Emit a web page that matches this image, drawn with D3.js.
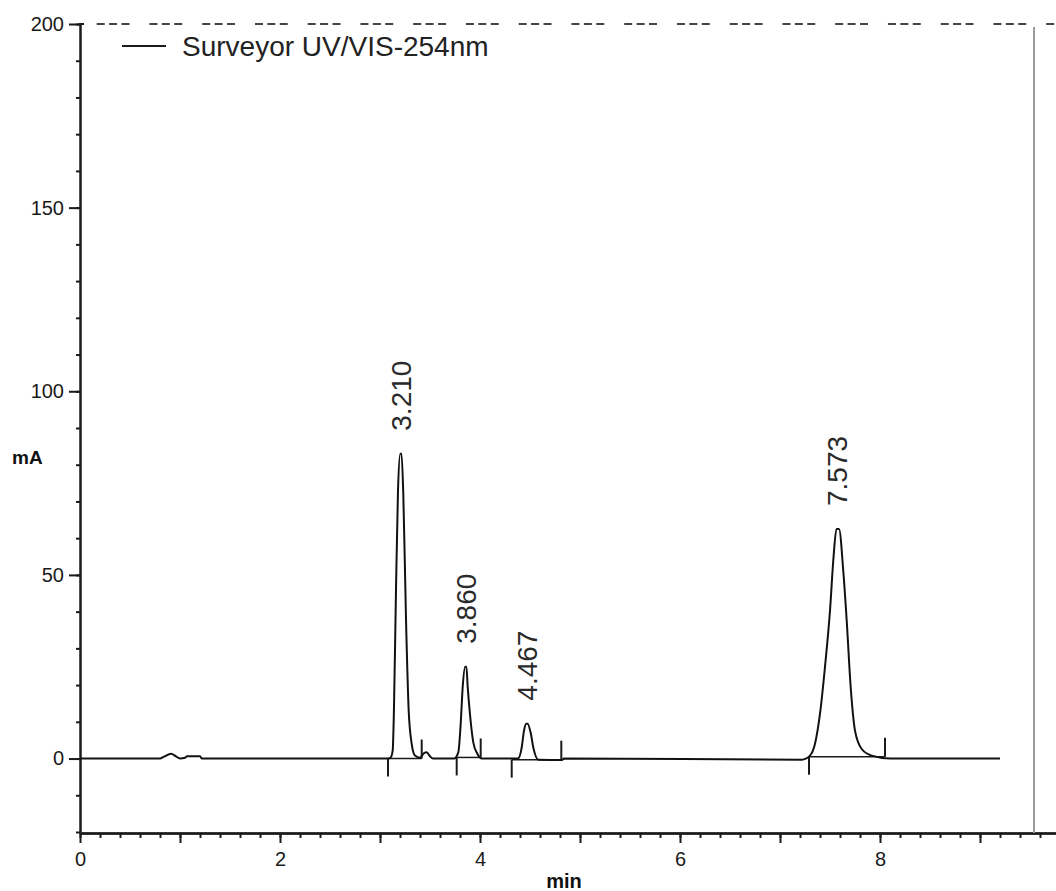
<!DOCTYPE html>
<html>
<head>
<meta charset="utf-8">
<script src="https://cdn.jsdelivr.net/npm/d3@7"></script>
<style>
    html, body { margin: 0; padding: 0; background: #fff; }
    svg { display: block; font-family: "Liberation Sans", Arial, sans-serif; }
</style>
</head>
<body>
<svg id="chart" width="1056" height="891"></svg>
<script>
// chromatogram trace, [ time (min), signal (mA) ]
var trace = [
    [0, 0], [0.80, 0], [0.84, 0.5], [0.91, 1.3], [0.96, 0.6], [1.00, 0],
    [1.05, 0.2], [1.07, 0.6], [1.20, 0.6], [1.22, 0],
    [3.08, 0], [3.107, 0.3], [3.127, 2.2], [3.14, 14], [3.16, 46], [3.18, 73],
    [3.203, 83], [3.215, 83], [3.233, 72], [3.26, 38], [3.287, 13], [3.317, 4],
    [3.35, 0.8], [3.40, 0.2], [3.44, 1.5], [3.467, 1.7], [3.50, 0.6], [3.53, 0],
    [3.74, 0], [3.783, 1.7], [3.807, 9.5], [3.827, 19.5], [3.852, 25], [3.864, 25],
    [3.877, 19.5], [3.90, 12], [3.933, 4.4], [3.973, 1.3], [4.02, 0],
    [4.38, 0], [4.417, 3], [4.44, 7.6], [4.462, 9.5], [4.475, 9.5], [4.507, 7],
    [4.533, 3], [4.583, -0.3], [4.82, -0.4], [4.84, 0],
    [7.217, -0.3], [7.30, 0.8], [7.35, 4], [7.40, 12.2], [7.45, 25], [7.50, 40.3],
    [7.533, 54], [7.565, 62.5], [7.59, 62.5], [7.633, 51], [7.667, 37.6],
    [7.707, 19.4], [7.75, 7.6], [7.817, 2.6], [7.917, 0.8], [8.10, 0], [9.20, 0]
];

// labelled peaks
var peakTimes = [3.210, 3.860, 4.467, 7.573];
var peakHeights = [83, 25, 9.5, 62.5];

// integration start / end markers and the baseline drawn between them
var peakStarts = [3.08, 3.767, 4.317, 7.29];
var peakEnds = [3.417, 4.007, 4.813, 8.05];
var baseLevels = [0, 0.3, -0.3, 0.5];

var xTicks = [0, 2, 4, 6, 8];
var yTicks = [0, 50, 100, 150, 200];
var yLimit = 200;
var seriesName = "Surveyor UV/VIS-254nm";

var svg = d3.select("#chart");

var x = d3.scaleLinear().domain([0, 9.76]).range([80, 1056]);
var y = d3.scaleLinear().domain([-20, 200]).range([832, 24]);

var ink = "#1a1a1a";

// ---- axes ----
var yMinor = svg.append("g")
    .attr("transform", "translate(80,0)")
    .call(d3.axisLeft(y)
        .tickValues(d3.range(-20, 201, 10))
        .tickSize(4)
        .tickSizeOuter(0)
        .tickFormat(""));

var yMajor = svg.append("g")
    .attr("transform", "translate(80,0)")
    .call(d3.axisLeft(y)
        .tickValues(yTicks)
        .tickSize(11)
        .tickSizeOuter(0)
        .tickPadding(5));

var xMinor = svg.append("g")
    .attr("transform", "translate(0,833)")
    .call(d3.axisBottom(x)
        .tickValues(d3.range(0, 49).map(function (i) { return i * 0.2; }))
        .tickSize(5)
        .tickSizeOuter(0)
        .tickFormat(""));

var xMid = svg.append("g")
    .attr("transform", "translate(0,833)")
    .call(d3.axisBottom(x)
        .tickValues([1, 3, 5, 7, 9])
        .tickSize(10)
        .tickSizeOuter(0)
        .tickFormat(""));

var xMajor = svg.append("g")
    .attr("transform", "translate(0,833)")
    .call(d3.axisBottom(x)
        .tickValues(xTicks)
        .tickSize(10)
        .tickSizeOuter(0)
        .tickPadding(9));

svg.selectAll(".domain, .tick line")
    .attr("stroke", ink)
    .attr("stroke-width", 2);

svg.selectAll(".tick text")
    .attr("fill", ink)
    .style("font-size", "20px")
    .style("font-family", "'Liberation Sans', Arial, sans-serif");

// little hook at the top of the y axis
svg.append("line")
    .attr("x1", 79).attr("x2", 84)
    .attr("y1", y(yLimit)).attr("y2", y(yLimit))
    .attr("stroke", ink).attr("stroke-width", 2);

// axis titles
svg.append("text")
    .attr("x", 12).attr("y", 464)
    .attr("fill", "#111")
    .style("font-size", "19px")
    .style("font-weight", "bold")
    .text("mA");

svg.append("text")
    .attr("x", 564).attr("y", 888)
    .attr("text-anchor", "middle")
    .attr("fill", "#111")
    .style("font-size", "20px")
    .style("font-weight", "bold")
    .text("min");

// ---- dashed limit line at 200 mA and the grey end-of-run line ----
svg.append("line")
    .attr("x1", 96.7).attr("x2", 1056)
    .attr("y1", y(yLimit)).attr("y2", y(yLimit))
    .attr("stroke", "#444")
    .attr("stroke-width", 2)
    .attr("stroke-dasharray", "8,4.4,8,4.4,8,19.95");

svg.append("line")
    .attr("x1", 1034).attr("x2", 1034)
    .attr("y1", 27).attr("y2", 833)
    .attr("stroke", "#9a9a9a")
    .attr("stroke-width", 2);

// ---- integration baselines + markers ----
var marks = svg.append("g");
peakStarts.forEach(function (t0, i) {
    var t1 = peakEnds[i];
    var b = y(baseLevels[i]);
    marks.append("line")
        .attr("x1", x(t0)).attr("x2", x(t1))
        .attr("y1", b).attr("y2", b)
        .attr("stroke", ink).attr("stroke-width", 1.5);
    // start marker hangs below, end marker stands above
    marks.append("line")
        .attr("x1", x(t0)).attr("x2", x(t0))
        .attr("y1", b).attr("y2", b + 18)
        .attr("stroke", ink).attr("stroke-width", 2);
    marks.append("line")
        .attr("x1", x(t1)).attr("x2", x(t1))
        .attr("y1", b).attr("y2", b - 19)
        .attr("stroke", ink).attr("stroke-width", 2);
});

// ---- the trace ----
var line = d3.line()
    .x(function (d) { return x(d[0]); })
    .y(function (d) { return y(d[1]); })
    .curve(d3.curveMonotoneX);

svg.append("path")
    .datum(trace)
    .attr("d", line)
    .attr("fill", "none")
    .attr("stroke", "#111")
    .attr("stroke-width", 2);

// ---- peak labels (rotated retention times) ----
svg.selectAll("text.peak")
    .data(peakTimes)
    .enter().append("text")
    .attr("class", "peak")
    .attr("transform", function (t, i) {
        return "translate(" + x(t) + "," + (y(peakHeights[i]) - 23) + ") rotate(-90)";
    })
    .attr("dy", "0.36em")
    .attr("fill", "#2a2a2a")
    .style("font-size", "28px")
    .text(function (t) { return t.toFixed(3); });

// ---- legend ----
svg.append("line")
    .attr("x1", 122).attr("x2", 166)
    .attr("y1", 46).attr("y2", 46)
    .attr("stroke", ink).attr("stroke-width", 2);

svg.append("text")
    .attr("x", 182).attr("y", 56)
    .attr("fill", "#222")
    .style("font-size", "28px")
    .text(seriesName);
</script>
</body>
</html>
